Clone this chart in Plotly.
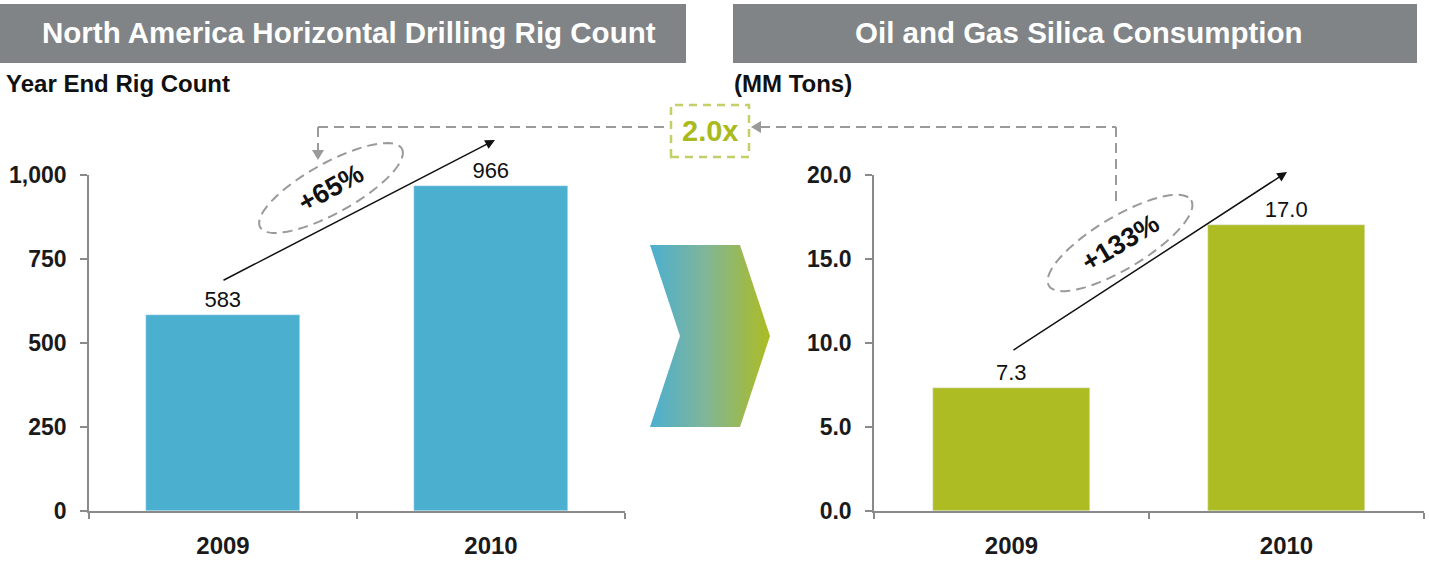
import numpy as np
import plotly.graph_objects as go

# ---- data ----
years = ["2009", "2010"]
rig_count = [583, 966]
silica_mm_tons = [7.3, 17.0]
rig_ticks = [0, 250, 500, 750, 1000]
rig_tick_text = ["0", "250", "500", "750", "1,000"]
silica_ticks = [0, 5, 10, 15, 20]
silica_tick_text = ["0.0", "5.0", "10.0", "15.0", "20.0"]

W, H = 1429, 567
BLUE = "#4BAFD0"
GREEN = "#ADBC22"
HEADER_GRAY = "#808487"
DASH_GRAY = "#9a9a9a"
AXIS_GRAY = "#8a8a8a"
FONT = "Liberation Sans, Arial, sans-serif"
DASH = "10px,6px"


def px(x):
    return x / W


def py(y):
    return 1 - y / H


fig = go.Figure()

fig.add_trace(go.Bar(
    x=years, y=rig_count, marker_color=BLUE, width=0.575,
    text=[f"{v:,}" for v in rig_count], textposition="outside",
    textfont=dict(family=FONT, size=22, color="#111"),
    cliponaxis=False, xaxis="x", yaxis="y", showlegend=False,
))
fig.add_trace(go.Bar(
    x=years, y=silica_mm_tons, marker_color=GREEN, width=0.57,
    text=[f"{v:.1f}" for v in silica_mm_tons], textposition="outside",
    textfont=dict(family=FONT, size=22, color="#111"),
    cliponaxis=False, xaxis="x2", yaxis="y2", showlegend=False,
))

# chevron between the two panels, blue-to-green gradient
chev_x = [650, 740, 770, 740, 650, 680, 650]
chev_y = [245, 245, 336, 427, 427, 336, 245]
fig.add_trace(go.Scatter(
    x=chev_x, y=chev_y, mode="lines", fill="toself",
    line=dict(width=0, color="rgba(0,0,0,0)"),
    fillgradient=dict(type="horizontal",
                      colorscale=[[0, BLUE], [0.45, "#7fb59a"], [1, GREEN]]),
    xaxis="x3", yaxis="y3", showlegend=False, hoverinfo="skip",
))

axis_common = dict(
    showline=True, linecolor=AXIS_GRAY, linewidth=1.5,
    ticks="outside", tickcolor=AXIS_GRAY, tickwidth=1.5,
    showgrid=False, zeroline=False, fixedrange=True, automargin=False,
)
xfont = dict(family=FONT, size=24, color="#1a1a1a")
yfont = dict(family=FONT, size=23, color="#1a1a1a")
ydom = [py(511), py(175)]

fig.update_layout(
    width=W, height=H,
    margin=dict(l=0, r=0, t=0, b=0, pad=0, autoexpand=False),
    paper_bgcolor="white", plot_bgcolor="rgba(0,0,0,0)",
    bargap=0,
    xaxis=dict(domain=[px(89), px(625)], type="category", tickson="boundaries",
               anchor="y", ticklen=6, tickfont=xfont, ticklabelstandoff=12,
               tickvals=years, ticktext=[f"<b>{y}</b>" for y in years],
               **axis_common),
    yaxis=dict(domain=ydom, range=[0, 1000], tickvals=rig_ticks,
               ticktext=[f"<b>{t}</b>" for t in rig_tick_text], anchor="x",
               ticklen=7, tickfont=yfont, ticklabelstandoff=9, **axis_common),
    xaxis2=dict(domain=[px(874), px(1424)], type="category", tickson="boundaries",
                anchor="y2", ticklen=6, tickfont=xfont, ticklabelstandoff=12,
                tickvals=years, ticktext=[f"<b>{y}</b>" for y in years],
                **axis_common),
    yaxis2=dict(domain=ydom, range=[0, 20], tickvals=silica_ticks,
                ticktext=[f"<b>{t}</b>" for t in silica_tick_text], anchor="x2",
                ticklen=7, tickfont=yfont, ticklabelstandoff=9, **axis_common),
    xaxis3=dict(domain=[0, 1], range=[0, W], visible=False, fixedrange=True,
                anchor="y3", automargin=False),
    yaxis3=dict(domain=[0, 1], range=[H, 0], visible=False, fixedrange=True,
                anchor="x3", automargin=False),
)

shapes = []
annotations = []

# header bars
for x0, x1, tx, title in [(0, 686, 349, "North America Horizontal Drilling Rig Count"),
                          (733, 1417, 1078, "Oil and Gas Silica Consumption")]:
    shapes.append(dict(type="rect", xref="paper", yref="paper",
                       x0=px(x0), x1=px(x1), y0=py(63), y1=py(4),
                       fillcolor=HEADER_GRAY, line=dict(width=0), layer="below"))
    annotations.append(dict(text=f"<b>{title}</b>", xref="paper", yref="paper",
                            x=px(tx), y=py(33), showarrow=False,
                            font=dict(family=FONT, size=29.5, color="white"),
                            xanchor="center", yanchor="middle"))

# sub-headings
annotations.append(dict(text="<b>Year End Rig Count</b>", xref="paper", yref="paper",
                        x=px(4), y=py(83), xanchor="left", yanchor="middle",
                        showarrow=False, font=dict(family=FONT, size=24, color="#111")))
annotations.append(dict(text="<b>(MM Tons)</b>", xref="paper", yref="paper",
                        x=px(732), y=py(83), xanchor="left", yanchor="middle",
                        showarrow=False, font=dict(family=FONT, size=24, color="#111")))

# growth arrows (drawn in the full-figure pixel frame x3/y3)
for (x0, y0, x1, y1) in [(222, 281, 495, 140), (1012, 351, 1287, 172)]:
    annotations.append(dict(x=x1, y=y1, ax=x0, ay=y0,
                            xref="x3", yref="y3", axref="x3", ayref="y3",
                            showarrow=True, arrowhead=2, arrowsize=1.3,
                            arrowwidth=1.5, arrowcolor="#111", text=""))


def ellipse_path(cx, cy, a, b, deg):
    t = np.linspace(0, 2 * np.pi, 90)
    th = np.deg2rad(deg)
    xs = cx + a * np.cos(t) * np.cos(th) + b * np.sin(t) * np.sin(th)
    ys = cy - a * np.cos(t) * np.sin(th) + b * np.sin(t) * np.cos(th)
    pts = [f"{px(x):.5f},{py(y):.5f}" for x, y in zip(xs, ys)]
    return "M" + " L".join(pts) + " Z"


# dashed ellipses with growth labels
for cx, cy, a, b, deg, label in [(331, 188, 81, 25, 29, "+65%"),
                                 (1120, 243, 83, 26, 31, "+133%")]:
    shapes.append(dict(type="path", xref="paper", yref="paper",
                       path=ellipse_path(cx, cy, a, b, deg),
                       line=dict(color=DASH_GRAY, width=2, dash=DASH)))
    annotations.append(dict(text=f"<b>{label}</b>", xref="paper", yref="paper",
                            x=px(cx), y=py(cy), showarrow=False, textangle=-deg,
                            font=dict(family=FONT, size=27, color="#111"),
                            xanchor="center", yanchor="middle"))

# dashed connector linking both growth rates to the multiplier box
dash_line = dict(color=DASH_GRAY, width=2, dash=DASH)
for x0, y0, x1, y1 in [(318, 127, 318, 150), (318, 127, 670, 127),
                       (760, 127, 1116, 127), (1116, 127, 1116, 206)]:
    shapes.append(dict(type="line", xref="paper", yref="paper",
                       x0=px(x0), y0=py(y0), x1=px(x1), y1=py(y1), line=dash_line))

# small arrowheads on the connector
for tri in [[(312, 150), (324, 150), (318, 160)], [(751, 127), (761, 121), (761, 133)]]:
    path = "M" + " L".join(f"{px(x):.5f},{py(y):.5f}" for x, y in tri) + " Z"
    shapes.append(dict(type="path", xref="paper", yref="paper", path=path,
                       fillcolor=DASH_GRAY, line=dict(width=0)))

# multiplier box
shapes.append(dict(type="rect", xref="paper", yref="paper",
                   x0=px(671), x1=px(749), y0=py(157), y1=py(105),
                   fillcolor="white",
                   line=dict(color="#c5cf6a", width=2.5, dash="8px,6px")))
annotations.append(dict(text="<b>2.0x</b>", xref="paper", yref="paper",
                        x=px(710), y=py(131), showarrow=False,
                        font=dict(family=FONT, size=29, color="#a8ba1c"),
                        xanchor="center", yanchor="middle"))

fig.update_layout(shapes=shapes, annotations=annotations)

fig.write_html("out.html")
